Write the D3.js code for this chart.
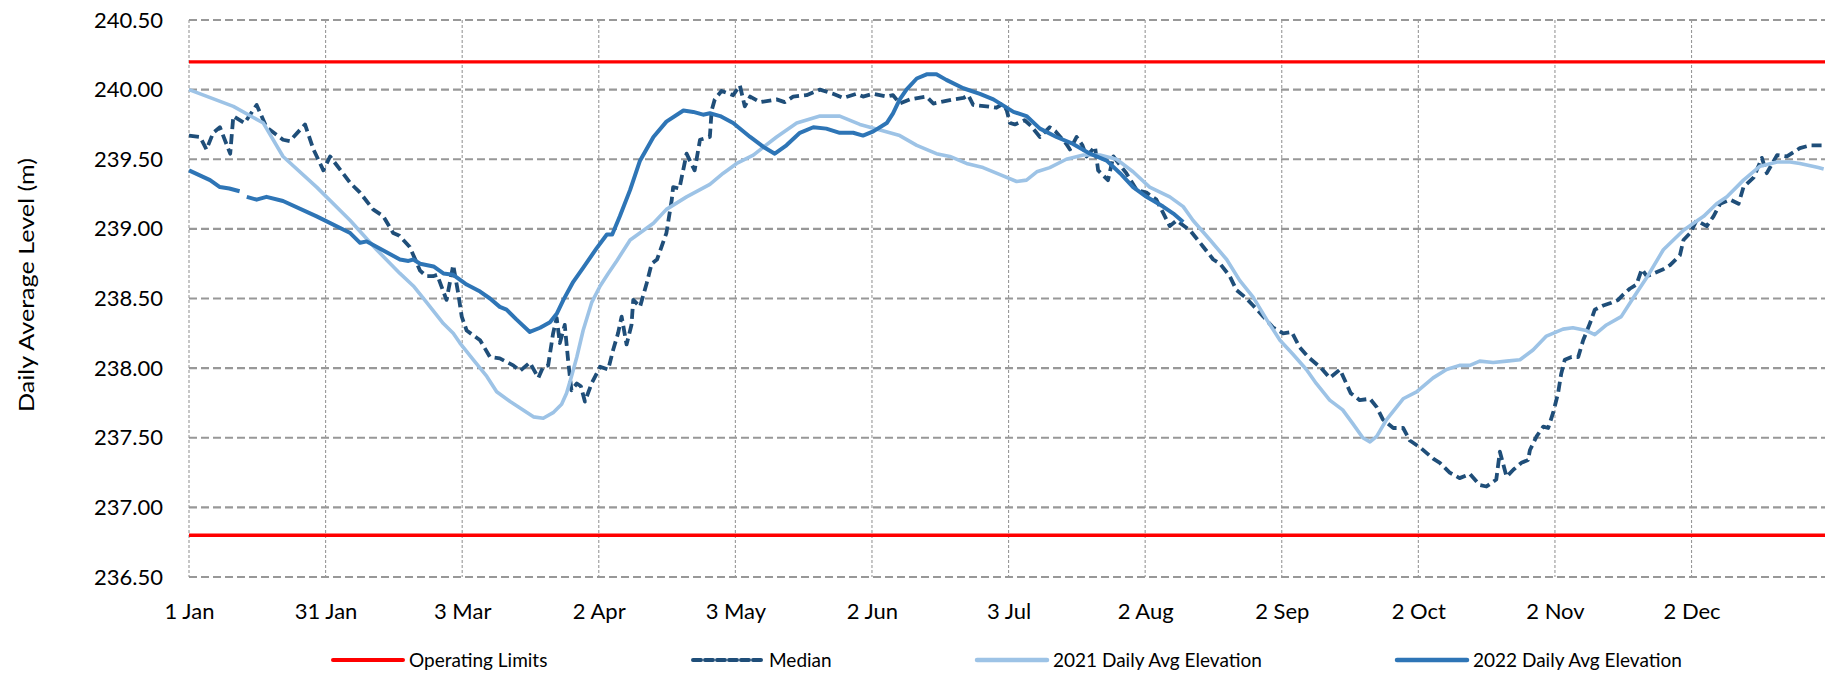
<!DOCTYPE html>
<html>
<head>
<meta charset="utf-8">
<script src="https://cdn.jsdelivr.net/npm/d3@7"></script>
<style>
  body { margin: 0; background: #ffffff; }
  svg { display: block; }
  text { font-family: Lato, "Open Sans", sans-serif; fill: #000; }
</style>
</head>
<body>
<svg id="chart" width="1825" height="674"></svg>
<script>
// ---------------- DATA ----------------
const xTickDays   = [0, 30.5, 61, 91.5, 122, 152.5, 183, 213.5, 244, 274.5, 305, 335.5];
const xTickLabels = ["1 Jan", "31 Jan", "3 Mar", "2 Apr", "3 May", "2 Jun", "3 Jul", "2 Aug", "2 Sep", "2 Oct", "2 Nov", "2 Dec"];
const yTicks = [236.5, 237.0, 237.5, 238.0, 238.5, 239.0, 239.5, 240.0, 240.5];
const operatingLimits = [240.2, 236.8];

const medianDays = [0, 2.5, 3.9, 5.4, 6.9, 9.2, 9.9, 12.4, 15.1, 17.3, 21, 22.5, 25.9, 27.8, 30, 31.5, 36, 38.2, 41.1, 43.4, 45.6, 47, 49.3, 51.6, 53, 54.5, 55.4, 57.5, 59, 60.1, 60.9, 62, 65, 67.2, 69.4, 72.4, 73.9, 76.1, 78, 79.1, 80.2, 81.3, 82.1, 82.8, 83.9, 84.7, 85.4, 86.6, 87.5, 88.4, 89.9, 91.8, 93.6, 94.7, 95.8, 96.6, 97.7, 98.8, 99.2, 100.7, 102.2, 103.3, 104.5, 106.6, 107.8, 108.1, 109.5, 111.1, 112.9, 114.1, 116.3, 116.7, 117.4, 118.9, 121.5, 123, 124.1, 125.3, 127.5, 131.2, 133, 134.9, 137.9, 140.9, 143.8, 146.1, 149, 150.5, 152.8, 155.8, 157.2, 158.7, 161, 164.7, 166.2, 170.7, 172.9, 174, 175.1, 178.1, 180.3, 181.8, 182.6, 183.3, 184.4, 186.6, 188, 190, 192.2, 193.5, 195.9, 196.7, 198.2, 199.5, 200.4, 202.3, 203, 205.2, 206.4, 209.3, 211.6, 213.8, 216, 219, 220.5, 223.5, 226.5, 228.7, 230.2, 232.4, 233.9, 235.8, 237.6, 239.9, 242.1, 244.3, 246.2, 248, 249.9, 252.8, 254.7, 257, 259.4, 261.4, 263.7, 265.2, 266.6, 268.9, 271.1, 272.6, 274.9, 277.8, 279.3, 281.5, 283.7, 286, 288.2, 289.7, 291.9, 292.7, 294.2, 295.7, 297.5, 299, 299.4, 300.9, 302.4, 303.5, 304.6, 305.7, 306.4, 307.2, 308.7, 310.2, 311.3, 312.8, 313.9, 315.8, 317.6, 319.1, 320.3, 321.7, 323.2, 324.4, 325.5, 327, 329.2, 330.7, 332.9, 333.7, 335.2, 336.6, 338.9, 340.4, 341.9, 344.1, 346, 347.1, 349.4, 351.2, 352.3, 354.6, 356.8, 359.7, 362, 364.2, 365];
const medianValues = [239.67, 239.66, 239.57, 239.69, 239.73, 239.54, 239.81, 239.76, 239.89, 239.73, 239.64, 239.63, 239.75, 239.57, 239.42, 239.52, 239.33, 239.26, 239.14, 239.09, 238.97, 238.95, 238.87, 238.70, 238.66, 238.66, 238.67, 238.49, 238.74, 238.54, 238.37, 238.27, 238.20, 238.08, 238.07, 238.02, 237.98, 238.04, 237.93, 238.01, 238.02, 238.25, 238.36, 238.18, 238.31, 238.04, 237.84, 237.89, 237.87, 237.76, 237.89, 238.01, 237.99, 238.13, 238.25, 238.37, 238.17, 238.31, 238.49, 238.44, 238.61, 238.75, 238.78, 238.97, 239.21, 239.30, 239.29, 239.54, 239.42, 239.64, 239.66, 239.85, 239.93, 239.99, 239.96, 240.03, 239.88, 239.95, 239.91, 239.93, 239.91, 239.95, 239.96, 240.00, 239.97, 239.94, 239.97, 239.95, 239.97, 239.95, 239.96, 239.90, 239.93, 239.95, 239.90, 239.93, 239.94, 239.96, 239.89, 239.88, 239.87, 239.90, 239.85, 239.76, 239.75, 239.78, 239.74, 239.66, 239.73, 239.70, 239.61, 239.57, 239.66, 239.60, 239.52, 239.59, 239.42, 239.35, 239.52, 239.40, 239.28, 239.26, 239.21, 239.02, 239.06, 238.99, 238.87, 238.78, 238.75, 238.66, 238.56, 238.51, 238.45, 238.37, 238.29, 238.25, 238.26, 238.15, 238.08, 238.00, 237.93, 237.99, 237.82, 237.77, 237.78, 237.72, 237.63, 237.57, 237.57, 237.48, 237.43, 237.35, 237.32, 237.25, 237.21, 237.24, 237.16, 237.15, 237.20, 237.40, 237.22, 237.27, 237.32, 237.34, 237.41, 237.51, 237.58, 237.57, 237.68, 237.82, 237.96, 238.06, 238.08, 238.08, 238.20, 238.32, 238.42, 238.45, 238.47, 238.49, 238.53, 238.57, 238.60, 238.71, 238.66, 238.68, 238.71, 238.74, 238.81, 238.92, 238.97, 239.06, 239.02, 239.09, 239.18, 239.21, 239.18, 239.30, 239.37, 239.51, 239.40, 239.53, 239.52, 239.58, 239.60, 239.60, 239.60];

const days2021 = [0, 9.9, 16.6, 21, 28.5, 36, 41.9, 47.1, 50.1, 53.1, 56.8, 59, 60.5, 63.5, 66.5, 68.7, 71.7, 74.6, 76.9, 79.1, 81.3, 83.2, 84.3, 85.4, 86.6, 88, 89.9, 91.8, 93.6, 95.5, 98.5, 103.7, 106.6, 111.1, 116.3, 119.3, 122.3, 126, 131.2, 135.7, 140.9, 145.3, 149.8, 154.3, 158.7, 162.5, 166.9, 169.9, 173.6, 177.3, 181.1, 184.8, 187, 189.3, 192.2, 195.9, 199.7, 203.4, 207.1, 210.8, 214.5, 219, 222, 224.2, 228, 231.7, 234.6, 237.6, 240.6, 243.6, 246.5, 249.5, 251.7, 254.7, 257.6, 259.9, 262.1, 263.7, 265.2, 267.4, 271.1, 274.1, 277.8, 280.8, 283.7, 286, 288.2, 291.2, 294.2, 297.2, 300.1, 303.1, 306.8, 309, 312, 313.9, 316.5, 319.8, 322.4, 325.5, 329.2, 333.7, 338.2, 341.1, 343.4, 347.1, 350.8, 354.6, 357.5, 359.7, 363.8, 365];
const values2021 = [240.00, 239.88, 239.76, 239.52, 239.30, 239.06, 238.85, 238.68, 238.59, 238.47, 238.32, 238.25, 238.18, 238.06, 237.94, 237.83, 237.76, 237.70, 237.65, 237.64, 237.68, 237.74, 237.82, 237.94, 238.08, 238.27, 238.47, 238.59, 238.68, 238.77, 238.92, 239.04, 239.14, 239.23, 239.32, 239.40, 239.47, 239.53, 239.66, 239.76, 239.81, 239.81, 239.75, 239.71, 239.67, 239.60, 239.54, 239.52, 239.47, 239.44, 239.39, 239.34, 239.35, 239.41, 239.44, 239.50, 239.53, 239.53, 239.50, 239.41, 239.30, 239.23, 239.16, 239.06, 238.92, 238.78, 238.63, 238.51, 238.35, 238.20, 238.10, 237.99, 237.89, 237.77, 237.70, 237.60, 237.50, 237.47, 237.51, 237.63, 237.78, 237.83, 237.93, 237.99, 238.02, 238.02, 238.05, 238.04, 238.05, 238.06, 238.13, 238.23, 238.28, 238.29, 238.27, 238.24, 238.31, 238.37, 238.50, 238.65, 238.85, 238.99, 239.09, 239.18, 239.23, 239.35, 239.45, 239.48, 239.48, 239.47, 239.44, 239.43];

// null marks the missing days in the 2022 record
const days2022 = [0, 4.7, 6.9, 9.0, 11.3, 12.0, 12.9, 15.1, 17.3, 21, 28.5, 36, 38.2, 39.7, 47.1, 49, 50.1, 51.6, 54.6, 56.8, 59, 62, 65, 67.2, 69.4, 70.9, 73.1, 76.1, 78.4, 80.6, 82.1, 83.6, 85.8, 88, 91, 93.3, 94.5, 96.2, 98.5, 100.7, 103.7, 106.6, 110.4, 112.6, 114.8, 116.3, 118.6, 121.5, 125.3, 128.2, 130.8, 133.4, 136.4, 139.4, 142.3, 145.3, 148.3, 150.5, 152.8, 155.8, 157.2, 158.7, 160.2, 162.5, 164.7, 166.9, 169.1, 172.9, 176.6, 179.6, 184.1, 187, 190, 193.7, 197.4, 201.2, 204.9, 207.9, 210.8, 213.8, 217.5, 219.8, 222];
const values2022 = [239.42, 239.35, 239.30, 239.29, 239.27, null, 239.23, 239.21, 239.23, 239.20, 239.09, 238.97, 238.90, 238.91, 238.78, 238.77, 238.78, 238.75, 238.73, 238.68, 238.67, 238.60, 238.55, 238.50, 238.44, 238.42, 238.35, 238.26, 238.29, 238.33, 238.39, 238.49, 238.62, 238.72, 238.86, 238.96, 238.96, 239.09, 239.28, 239.49, 239.66, 239.77, 239.85, 239.84, 239.82, 239.83, 239.81, 239.76, 239.66, 239.59, 239.54, 239.60, 239.69, 239.73, 239.72, 239.69, 239.69, 239.67, 239.70, 239.76, 239.83, 239.93, 240.00, 240.08, 240.11, 240.11, 240.07, 240.01, 239.97, 239.93, 239.84, 239.81, 239.72, 239.66, 239.61, 239.54, 239.49, 239.40, 239.30, 239.23, 239.16, 239.11, 239.05];

const legendLabels = ["Operating Limits", "Median", "2021 Daily Avg Elevation", "2022 Daily Avg Elevation"];

// ---------------- CHART ----------------
const svg = d3.select("#chart");
const pLeft = 189, pRight = 1825, pTop = 20, pBottom = 577;

const x = d3.scaleLinear().domain([0, 365.3]).range([pLeft, pRight]);
const y = d3.scaleLinear().domain([236.5, 240.5]).range([pBottom, pTop]);

const gridColor = "#989898";

// horizontal gridlines
svg.append("g").selectAll("line").data(yTicks).join("line")
  .attr("x1", pLeft).attr("x2", pRight)
  .attr("y1", d => y(d)).attr("y2", d => y(d))
  .attr("stroke", gridColor).attr("stroke-width", 2.2)
  .attr("stroke-dasharray", "8,4");

// vertical gridlines
svg.append("g").selectAll("line").data(xTickDays).join("line")
  .attr("x1", d => x(d)).attr("x2", d => x(d))
  .attr("y1", pTop).attr("y2", pBottom)
  .attr("stroke", gridColor).attr("stroke-width", 1.1)
  .attr("stroke-dasharray", "3,2");

// Y axis
const yAxis = svg.append("g").attr("transform", `translate(${pLeft},0)`)
  .call(d3.axisLeft(y).tickValues(yTicks).tickFormat(d3.format(".2f")).tickSize(0).tickPadding(26));
yAxis.select(".domain").remove();
yAxis.selectAll("text").attr("font-size", 22).style("font-family", "Lato, 'Open Sans', sans-serif").attr("fill", "#000");

// X axis
const xAxis = svg.append("g").attr("transform", `translate(0,${pBottom})`)
  .call(d3.axisBottom(x).tickValues(xTickDays).tickFormat((d, i) => xTickLabels[i]).tickSize(0));
xAxis.select(".domain").remove();
xAxis.selectAll("text").attr("font-size", 22).attr("dy", null).attr("y", 42)
  .style("font-family", "Lato, 'Open Sans', sans-serif").attr("fill", "#000");

// Y title
svg.append("text")
  .attr("transform", "translate(34,285) rotate(-90)")
  .attr("text-anchor", "middle")
  .attr("font-size", 22)
  .attr("textLength", 254)
  .attr("lengthAdjust", "spacingAndGlyphs")
  .text("Daily Average Level (m)");

// Operating limits
svg.append("g").selectAll("line").data(operatingLimits).join("line")
  .attr("x1", pLeft).attr("x2", pRight)
  .attr("y1", d => y(d)).attr("y2", d => y(d))
  .attr("stroke", "#FF0000").attr("stroke-width", 3.3);

const mkLine = d3.line().defined(d => d[1] != null).x(d => x(d[0])).y(d => y(d[1]));
const zipS = (ds, vs) => ds.map((d, i) => [d, vs[i]]);

// Median
svg.append("path").datum(zipS(medianDays, medianValues))
  .attr("d", mkLine).attr("fill", "none")
  .attr("stroke", "#1F4E79").attr("stroke-width", 3.8)
  .attr("stroke-dasharray", "10,5").attr("stroke-linejoin", "round");

// 2021
svg.append("path").datum(zipS(days2021, values2021))
  .attr("d", mkLine).attr("fill", "none")
  .attr("stroke", "#9DC3E6").attr("stroke-width", 3.6).attr("stroke-linejoin", "round");

// 2022
svg.append("path").datum(zipS(days2022, values2022))
  .attr("d", mkLine).attr("fill", "none")
  .attr("stroke", "#2E75B6").attr("stroke-width", 4).attr("stroke-linejoin", "round");

// Legend
const legendX = [333, 693, 977, 1397];
const legendStyles = [
  {stroke: "#FF0000", width: 4, dash: null},
  {stroke: "#1F4E79", width: 4, dash: "8,4"},
  {stroke: "#9DC3E6", width: 4.5, dash: null},
  {stroke: "#2E75B6", width: 4.5, dash: null}
];
const lg = svg.append("g").selectAll("g").data(legendLabels).join("g")
  .attr("transform", (d, i) => `translate(${legendX[i]},660)`);
lg.append("line").attr("x1", 0).attr("x2", 70).attr("y1", 0).attr("y2", 0)
  .attr("stroke", (d, i) => legendStyles[i].stroke)
  .attr("stroke-width", (d, i) => legendStyles[i].width)
  .attr("stroke-linecap", "round")
  .attr("stroke-dasharray", (d, i) => legendStyles[i].dash);
lg.append("text").attr("x", 76).attr("y", 7).attr("font-size", 19).text(d => d);
</script>
</body>
</html>
